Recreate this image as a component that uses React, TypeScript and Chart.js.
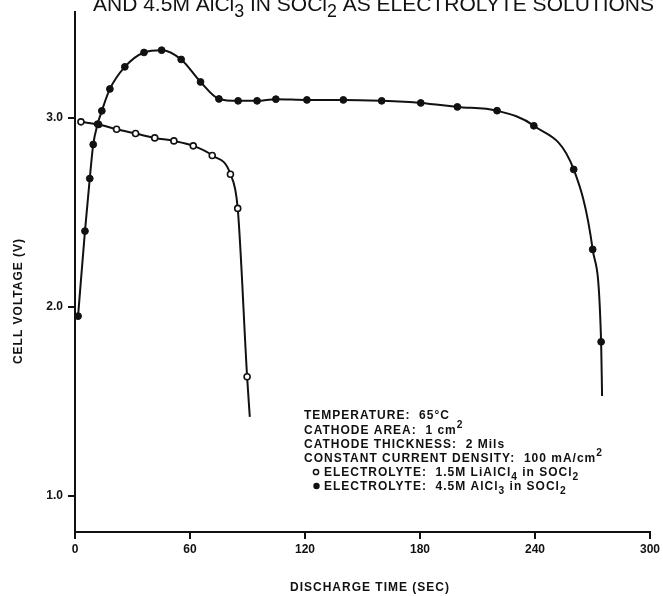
import { useEffect, useRef } from "react";
import { Chart, registerables } from "chart.js";
Chart.register(...registerables);

// ---- data ----
const liTime = [3.1, 12.3, 21.7, 31.6, 41.6, 51.6, 61.7, 71.6, 81.1, 84.9, 89.8, 91.2];
const liVolt = [2.978, 2.964, 2.939, 2.916, 2.893, 2.877, 2.851, 2.8, 2.701, 2.52, 1.629, 1.417];

const alTime = [1.6, 5.2, 7.7, 9.5, 11.8, 14.0, 18.2, 26.0, 36.0, 45.2, 55.4, 65.5, 75.1, 85.1, 95.0, 104.8, 121.0, 140.0, 160.0, 180.4, 199.5, 220.2, 239.4, 260.2, 270.1, 274.5, 275.0];
const alVolt = [1.95, 2.4, 2.678, 2.858, 2.966, 3.036, 3.152, 3.269, 3.345, 3.357, 3.308, 3.189, 3.099, 3.089, 3.089, 3.098, 3.094, 3.094, 3.089, 3.078, 3.057, 3.037, 2.957, 2.726, 2.303, 1.814, 1.527];

const xTicks = [0, 60, 120, 180, 240, 300];
const yTicks = [1.0, 2.0, 3.0];
const xMin = 0;
const xMax = 300;
const yMin = 0.808;
const yMax = 3.558;

const titleText: [string, string][] = [
  ["AND 4.5M AlCl", "n"], ["3", "sub"], [" IN SOCl", "n"], ["2", "sub"], [" AS ELECTROLYTE SOLUTIONS", "n"],
];
const xTitle = "DISCHARGE TIME (SEC)";
const yTitle = "CELL VOLTAGE (V)";
const noteLines: [string, string][][] = [
  [["TEMPERATURE:  65°C", "n"]],
  [["CATHODE AREA:  1 cm", "n"], ["2", "sup"]],
  [["CATHODE THICKNESS:  2 Mils", "n"]],
  [["CONSTANT CURRENT DENSITY:  100 mA/cm", "n"], ["2", "sup"]],
];
const legendLines: [string, string][][] = [
  [["ELECTROLYTE:  1.5M LiAlCl", "n"], ["4", "sub"], [" in SOCl", "n"], ["2", "sub"]],
  [["ELECTROLYTE:  4.5M AlCl", "n"], ["3", "sub"], [" in SOCl", "n"], ["2", "sub"]],
];

const FAMILY = '"Liberation Sans", Arial, Helvetica, sans-serif';

function partSize(size: number, m: string) {
  return m === "n" ? size : size * 0.85;
}

function richWidth(ctx: CanvasRenderingContext2D, parts: [string, string][], size: number, weight: string) {
  let w = 0;
  for (const [t, m] of parts) {
    ctx.font = `${weight} ${partSize(size, m)}px ${FAMILY}`;
    w += ctx.measureText(t).width;
  }
  return w;
}

function drawRich(ctx: CanvasRenderingContext2D, x: number, y: number, parts: [string, string][], size: number, weight: string) {
  let cx = x;
  for (const [t, m] of parts) {
    ctx.font = `${weight} ${partSize(size, m)}px ${FAMILY}`;
    const dy = m === "sub" ? size * 0.3 : m === "sup" ? -size * 0.45 : 0;
    ctx.fillText(t, cx, y + dy);
    cx += ctx.measureText(t).width;
  }
  return cx;
}

const textPlugin = {
  id: "figText",
  afterDraw(chart: any) {
    const ctx: CanvasRenderingContext2D = chart.ctx;
    ctx.save();
    ctx.fillStyle = "#111";
    ctx.strokeStyle = "#111";
    ctx.textBaseline = "alphabetic";
    ctx.textAlign = "left";

    // top title (cut off by the top edge)
    (ctx as any).letterSpacing = "0px";
    const tw = richWidth(ctx, titleText, 21, "normal");
    ctx.save();
    ctx.translate(93, 11);
    ctx.scale(561 / tw, 1);
    drawRich(ctx, 0, 0, titleText, 21, "normal");
    ctx.restore();

    (ctx as any).letterSpacing = "1px";
    // notes
    const noteY = [419, 433.5, 447.5, 461.5];
    noteLines.forEach((ln, i) => drawRich(ctx, 304, noteY[i], ln, 12, "bold"));
    const legY = [476, 490];
    legendLines.forEach((ln, i) => drawRich(ctx, 324, legY[i], ln, 12, "bold"));
    // legend markers
    ctx.lineWidth = 1.5;
    ctx.beginPath();
    ctx.arc(316, legY[0] - 4, 2.6, 0, Math.PI * 2);
    ctx.fillStyle = "#fff";
    ctx.fill();
    ctx.stroke();
    ctx.fillStyle = "#111";
    ctx.beginPath();
    ctx.arc(316.5, legY[1] - 4, 3.2, 0, Math.PI * 2);
    ctx.fill();

    // axis titles
    ctx.font = `bold 12px ${FAMILY}`;
    ctx.textAlign = "center";
    ctx.fillText(xTitle, 370, 591);
    ctx.save();
    ctx.translate(22, 301);
    ctx.rotate(-Math.PI / 2);
    ctx.fillText(yTitle, 0, 0);
    ctx.restore();
    ctx.restore();
  },
};

export default function App() {
  const ref = useRef<HTMLCanvasElement | null>(null);
  useEffect(() => {
    if (!ref.current) return;
    const lastRadius = (r: number) => (c: any) => (c.dataIndex === c.dataset.data.length - 1 ? 0 : r);
    const chart = new Chart(ref.current, {
      type: "line",
      data: {
        datasets: [
          {
            label: "4.5M AlCl3 in SOCl2",
            data: alTime.map((t, i) => ({ x: t, y: alVolt[i] })),
            borderColor: "#111",
            borderWidth: 2,
            backgroundColor: "#111",
            pointBackgroundColor: "#111",
            pointBorderColor: "#111",
            pointBorderWidth: 1,
            pointRadius: lastRadius(3.4),
            cubicInterpolationMode: "monotone",
            fill: false,
          },
          {
            label: "1.5M LiAlCl4 in SOCl2",
            data: liTime.map((t, i) => ({ x: t, y: liVolt[i] })),
            borderColor: "#111",
            borderWidth: 2,
            backgroundColor: "#fff",
            pointBackgroundColor: "#fff",
            pointBorderColor: "#111",
            pointBorderWidth: 1.6,
            pointRadius: lastRadius(3),
            cubicInterpolationMode: "monotone",
            fill: false,
          },
        ],
      },
      options: {
        animation: false,
        responsive: false,
        devicePixelRatio: 1,
        layout: { padding: { left: 0, top: 12, right: 12, bottom: 0 } },
        plugins: { legend: { display: false }, tooltip: { enabled: false }, title: { display: false } },
        scales: {
          x: {
            type: "linear",
            min: xMin,
            max: xMax,
            afterBuildTicks: (s: any) => {
              s.ticks = xTicks.map((v) => ({ value: v }));
            },
            afterFit: (s: any) => {
              s.height = 64;
            },
            ticks: {
              color: "#111",
              font: { family: FAMILY, size: 12, weight: "bold" },
              padding: 3,
              maxRotation: 0,
              autoSkip: false,
              callback: (v: any) => String(v),
            },
            grid: { drawOnChartArea: false, drawTicks: true, tickLength: 7, color: "#111", lineWidth: 2 },
            border: { display: true, color: "#111", width: 2 },
          },
          y: {
            type: "linear",
            min: yMin,
            max: yMax,
            afterBuildTicks: (s: any) => {
              s.ticks = yTicks.map((v) => ({ value: v }));
            },
            afterFit: (s: any) => {
              s.width = 75;
            },
            ticks: {
              color: "#111",
              font: { family: FAMILY, size: 12, weight: "bold" },
              padding: 5,
              callback: (v: any) => Number(v).toFixed(1),
            },
            grid: { drawOnChartArea: false, drawTicks: true, tickLength: 7, color: "#111", lineWidth: 2 },
            border: { display: true, color: "#111", width: 2 },
          },
        },
      },
      plugins: [textPlugin],
    } as any);
    return () => chart.destroy();
  }, []);
  return (
    <div style={{ position: "fixed", left: 0, top: 0, width: 663, height: 596, background: "#fff" }}>
      <canvas ref={ref} width={663} height={596} style={{ display: "block", width: 663, height: 596 }} />
    </div>
  );
}
